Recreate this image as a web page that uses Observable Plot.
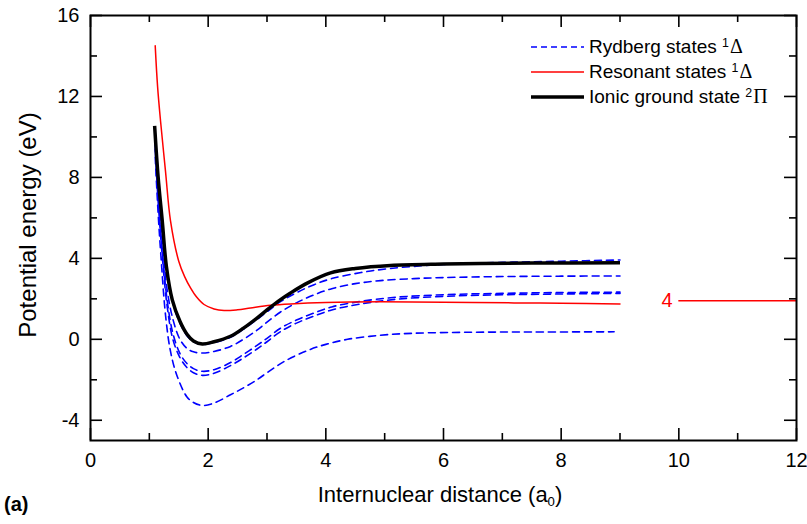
<!DOCTYPE html>
<html><head><meta charset="utf-8">
<script src="https://cdn.jsdelivr.net/npm/d3@7"></script>
<script src="https://cdn.jsdelivr.net/npm/@observablehq/plot@0.6"></script>
<style>
body{margin:0;background:#fff;font-family:"Liberation Sans",Arial,sans-serif;}
#wrap{position:relative;width:807px;height:524px;overflow:hidden;background:#fff}
.abs{position:absolute;white-space:nowrap;color:#000}
.sym{font-family:"Liberation Serif","Times New Roman",serif;font-size:1.05em}
.leg{position:absolute;left:530px;font-size:19px;display:flex;align-items:center;height:25px;white-space:nowrap;line-height:1}
.leg svg{margin-right:4px}
sup{font-size:0.62em;vertical-align:0.45em;line-height:0;margin-right:1px;font-family:"Liberation Sans",Arial,sans-serif}
sub{font-size:0.6em;vertical-align:-0.3em;line-height:0}
</style></head><body><div id="wrap"></div>
<script>
// ---- data ----
const xMajor = [0, 2, 4, 6, 8, 10, 12];
const xMinor = [1, 3, 5, 7, 9, 11];
const yMajor = [-4, 0, 4, 8, 12, 16];
const yMinor = [-2, 2, 6, 10, 14];

const ionicGround = [[1.09,10.55],[1.15,8.0],[1.22,5.84],[1.29,3.6],[1.39,1.95],[1.52,0.89],[1.64,0.25],[1.75,-0.08],[1.9,-0.23],[2.1,-0.12],[2.38,0.15],[2.6,0.55],[2.83,1.05],[3.0,1.45],[3.23,1.96],[3.4,2.29],[3.7,2.8],[4.08,3.28],[4.5,3.5],[5.1,3.65],[6,3.72],[6.63,3.75],[7.5,3.77],[9,3.78]];

const resonant = [[1.1,14.5],[1.14,12.5],[1.19,10.8],[1.275,8.3],[1.36,5.85],[1.5,3.86],[1.6,3.1],[1.7,2.54],[1.8,2.1],[1.93,1.72],[2.1,1.5],[2.27,1.42],[2.5,1.46],[2.72,1.55],[3.06,1.68],[3.4,1.75],[4,1.82],[4.93,1.85],[6,1.83],[7.2,1.8],[8,1.78],[9,1.75]];

const rydA = [[1.1,10.2],[1.15,7.8],[1.22,5.6],[1.3,3.3],[1.4,1.8],[1.52,0.8],[1.64,0.18],[1.75,-0.12],[1.9,-0.26],[2.1,-0.16],[2.38,0.1],[2.6,0.5],[2.83,0.98],[3.0,1.36],[3.23,1.86],[3.5,2.3],[3.8,2.7],[4.1,3.0],[4.6,3.3],[5.1,3.5],[6,3.7],[7,3.8],[8,3.86],[9,3.92]];
const rydB = [[1.1,9.8],[1.15,7.2],[1.22,4.8],[1.3,2.5],[1.4,1.0],[1.52,0.0],[1.64,-0.45],[1.75,-0.62],[1.9,-0.68],[2.1,-0.6],[2.38,-0.35],[2.6,0.0],[2.83,0.45],[3.0,0.85],[3.23,1.35],[3.5,1.8],[3.8,2.2],[4.1,2.5],[4.5,2.75],[4.93,2.9],[5.5,3.0],[6,3.05],[7,3.1],[8,3.12],[9,3.13]];
const rydC = [[1.1,9.6],[1.15,7.0],[1.22,4.4],[1.3,2.0],[1.4,0.3],[1.52,-0.7],[1.64,-1.2],[1.75,-1.45],[1.9,-1.58],[2.1,-1.5],[2.38,-1.15],[2.6,-0.75],[2.83,-0.3],[3.0,0.05],[3.23,0.55],[3.5,0.95],[3.8,1.3],[4.1,1.6],[4.54,1.85],[5.2,2.08],[6.07,2.21],[7,2.27],[8,2.31],[9,2.33]];
const rydD = [[1.1,9.4],[1.15,6.8],[1.22,4.1],[1.3,1.7],[1.4,0.0],[1.52,-0.9],[1.64,-1.4],[1.75,-1.65],[1.9,-1.78],[2.1,-1.68],[2.38,-1.3],[2.6,-0.92],[2.83,-0.48],[3.0,-0.12],[3.23,0.38],[3.5,0.8],[3.8,1.15],[4.1,1.45],[4.54,1.72],[5.2,1.98],[6.07,2.13],[7,2.2],[8,2.24],[9,2.27]];
const rydE = [[1.1,9.0],[1.15,6.2],[1.2,4.0],[1.275,1.2],[1.36,-0.6],[1.47,-1.8],[1.64,-2.85],[1.75,-3.12],[1.9,-3.27],[2.1,-3.15],[2.38,-2.74],[2.6,-2.4],[2.83,-2.0],[3.0,-1.65],[3.29,-1.1],[3.69,-0.55],[4.0,-0.25],[4.37,0.0],[4.93,0.2],[5.5,0.3],[6.5,0.35],[7.5,0.36],[8.9,0.37]];
const rydberg = [rydA, rydB, rydC, rydD, rydE];

// extra resonant-state label segment
const resLabel = [{label: "4", tx: 9.8, y: 1.9, x1: 10, x2: 12}];

// ---- build ----
const toRows = (arr, id) => arr.map(([x, y]) => ({id, x, y}));
const rydRows = rydberg.flatMap((c, i) => toRows(c, "r" + i));
const resRows = toRows(resonant, "res");
const ionRows = toRows(ionicGround, "ion");

const W = 807, H = 524, mL = 90, mR = 11, mT = 15, mB = 84;
const ph = H - mT - mB, pw = W - mL - mR;
const major = 12, minor = 7;
const tk = {stroke: "#000", strokeWidth: 1.6};

const chart = Plot.plot({
  width: W, height: H,
  marginLeft: mL, marginRight: mR, marginTop: mT, marginBottom: mB,
  style: {fontFamily: '"Liberation Sans", Arial, sans-serif', background: "#fff", color: "#000"},
  x: {domain: [0, 12]},
  y: {domain: [-5, 16]},
  marks: [
    Plot.line(rydRows, {x: "x", y: "y", z: "id", stroke: "#0000ff", strokeWidth: 1.6, strokeDasharray: "7,5", curve: "catmull-rom"}),
    Plot.line(resRows, {x: "x", y: "y", stroke: "#ff0000", strokeWidth: 1.5, curve: "catmull-rom"}),
    Plot.ruleY(resLabel, {y: "y", x1: "x1", x2: "x2", stroke: "#ff0000", strokeWidth: 1.5}),
    Plot.text(resLabel, {x: "tx", y: "y", text: "label", fill: "#ff0000", fontSize: 20, textAnchor: "middle"}),
    Plot.line(ionRows, {x: "x", y: "y", stroke: "#000", strokeWidth: 3.5, curve: "catmull-rom", strokeLinecap: "butt"}),
    // inward ticks on all four sides
    Plot.tickX(xMajor, {x: d => d, insetTop: ph - major, ...tk}),
    Plot.tickX(xMinor, {x: d => d, insetTop: ph - minor, ...tk}),
    Plot.tickX(xMajor, {x: d => d, insetBottom: ph - major, ...tk}),
    Plot.tickX(xMinor, {x: d => d, insetBottom: ph - minor, ...tk}),
    Plot.tickY(yMajor, {y: d => d, insetRight: pw - major, ...tk}),
    Plot.tickY(yMinor, {y: d => d, insetRight: pw - minor, ...tk}),
    Plot.tickY(yMajor, {y: d => d, insetLeft: pw - major, ...tk}),
    Plot.tickY(yMinor, {y: d => d, insetLeft: pw - minor, ...tk}),
    Plot.frame({stroke: "#000", strokeWidth: 2}),
    Plot.axisX({ticks: xMajor, tickSize: 0, tickPadding: 12, fontSize: 20, label: null, tickFormat: d => String(d)}),
    Plot.axisY({ticks: yMajor, tickSize: 0, tickPadding: 11, fontSize: 20, label: null, tickFormat: d => String(d)})
  ]
});

const wrap = document.getElementById("wrap");
wrap.appendChild(chart);

function add(html, style, cls = "abs") {
  const d = document.createElement("div");
  d.className = cls;
  d.innerHTML = html;
  Object.assign(d.style, style);
  wrap.appendChild(d);
  return d;
}
add("Potential energy (eV)", {left: "28px", top: "225px", fontSize: "24px", transform: "translate(-50%,-50%) rotate(-90deg)"});
add("Internuclear distance (a<sub>0</sub>)", {left: "440px", top: "495px", fontSize: "22px", transform: "translate(-50%,-50%)"});
add("(a)", {left: "4px", top: "493px", fontSize: "20px", fontWeight: "bold"});

const legend = [
  {text: 'Rydberg states <span class="sym"><sup>1</sup>&Delta;</span>', stroke: "#0000ff", w: 1.6, dash: "6,4", cy: 47},
  {text: 'Resonant states <span class="sym"><sup>1</sup>&Delta;</span>', stroke: "#ff0000", w: 1.5, dash: null, cy: 72},
  {text: 'Ionic ground state <span class="sym"><sup>2</sup>&Pi;</span>', stroke: "#000", w: 3.5, dash: null, cy: 97}
];
for (const l of legend) {
  const svg = `<svg width="55" height="10"><line x1="1" x2="54" y1="5" y2="5" stroke="${l.stroke}" stroke-width="${l.w}" ${l.dash ? `stroke-dasharray="${l.dash}"` : ""}/></svg>`;
  add(svg + "<span>" + l.text + "</span>", {top: (l.cy - 12.5) + "px"}, "leg");
}
</script></body></html>
